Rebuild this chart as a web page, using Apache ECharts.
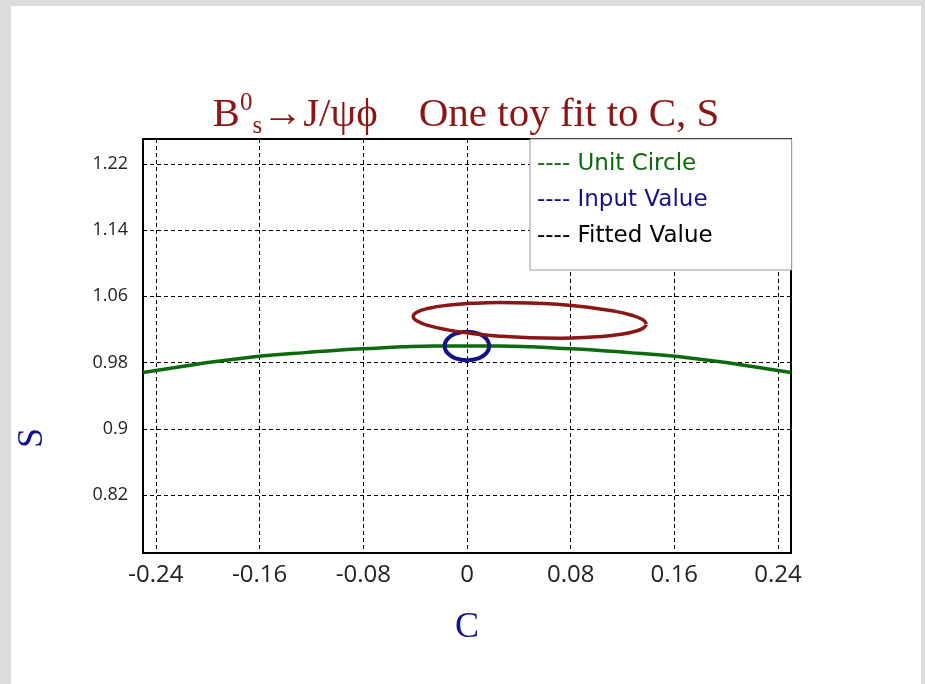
<!DOCTYPE html>
<html>
<head>
<meta charset="utf-8">
<script src="https://cdn.jsdelivr.net/npm/echarts@6/dist/echarts.min.js"></script>
<style>
  html, body { margin: 0; padding: 0; background: #dcdcdc; }
  #container { position: absolute; left: 11px; top: 6px; width: 910px; height: 678px; background: #fff; }
</style>
</head>
<body>
<div id="container"></div>
<script>
// tick positions
var cTicks = [-0.24, -0.16, -0.08, 0, 0.08, 0.16, 0.24];
var sTicks = [0.82, 0.9, 0.98, 1.06, 1.14, 1.22];

// unit circle (green)
var circleC = [-0.25, -0.225, -0.2, -0.175, -0.15, -0.125, -0.1, -0.075, -0.05, -0.025, 0,
               0.025, 0.05, 0.075, 0.1, 0.125, 0.15, 0.175, 0.2, 0.225, 0.25];
var circleS = [0.968, 0.974, 0.980, 0.985, 0.989, 0.992, 0.995, 0.997, 0.999, 1.0, 1.0,
               1.0, 0.999, 0.997, 0.995, 0.992, 0.989, 0.985, 0.980, 0.974, 0.968];

// input value contour (blue)
var inputC = [0.0173, 0.0150, 0.0087, 0, -0.0087, -0.0150, -0.0173, -0.0150, -0.0087, 0, 0.0087, 0.0150, 0.0173];
var inputS = [1.0, 1.0087, 1.0150, 1.0173, 1.0150, 1.0087, 1.0, 0.9913, 0.9850, 0.9827, 0.9850, 0.9913, 1.0];

// fitted value contour (red)
var fitC = [0.1385, 0.1354, 0.1264, 0.1121, 0.0935, 0.0718, 0.0485, 0.0252, 0.0035, -0.0151, -0.0294, -0.0384,
            -0.0415, -0.0384, -0.0294, -0.0151, 0.0035, 0.0252, 0.0485, 0.0718, 0.0935, 0.1121, 0.1264, 0.1354, 0.1385];
var fitS = [1.0263, 1.0319, 1.0374, 1.0425, 1.0468, 1.0501, 1.0520, 1.0525, 1.0515, 1.0492, 1.0456, 1.0410,
            1.0357, 1.0301, 1.0246, 1.0195, 1.0152, 1.0119, 1.0100, 1.0095, 1.0105, 1.0128, 1.0164, 1.0210, 1.0263];

var GREEN = '#0c6a0c', NAVY = '#12128a', MAROON = '#8b1616';

function pairs(xs, ys) {
    return xs.map(function (x, i) { return [x, ys[i]]; });
}

var myChart = echarts.init(document.getElementById('container'));

var serif = 'Liberation Serif';
var option = {
    animation: false,
    title: {
        text: '{b|B}{sup|0}{sub|s}{b|\u2192J/\u03c8\u03d5    One toy fit to C, S}',
        left: 'center',
        top: 80,
        textStyle: {
            rich: {
                b: { fontFamily: serif, fontWeight: 'normal', fontSize: 41, color: MAROON, lineHeight: 48 },
                sup: { fontFamily: serif, fontWeight: 'normal', fontSize: 25, color: MAROON, lineHeight: 34, verticalAlign: 'top' },
                sub: { fontFamily: serif, fontWeight: 'normal', fontSize: 25, color: MAROON, lineHeight: 22, verticalAlign: 'bottom' }
            }
        }
    },
    legend: {
        orient: 'vertical',
        left: 519,
        top: 133,
        icon: 'none',
        itemWidth: 0,
        itemHeight: 14,
        itemGap: 10,
        padding: [12, 79, 21, 2],
        backgroundColor: '#fff',
        borderColor: '#999',
        borderWidth: 1,
        formatter: '---- {name}',
        textStyle: { fontFamily: 'DejaVu Sans', fontSize: 23, lineHeight: 26 },
        data: [
            { name: 'Unit Circle', textStyle: { color: GREEN } },
            { name: 'Input Value', textStyle: { color: NAVY } },
            { name: 'Fitted Value', textStyle: { color: '#000' } }
        ]
    },
    grid: {
        left: 132, top: 133, width: 648, height: 414,
        outerBoundsMode: 'none',
        show: true, borderColor: '#000', borderWidth: 2, backgroundColor: 'transparent'
    },
    xAxis: {
        type: 'value', min: -0.25, max: 0.25,
        name: 'C', nameLocation: 'middle', nameGap: 57,
        nameTextStyle: { fontFamily: serif, fontSize: 36, color: NAVY },
        axisLine: { show: false },
        axisTick: { show: false, customValues: cTicks },
        axisLabel: { customValues: cTicks, fontFamily: 'Open Sans', fontSize: 24, color: '#222', margin: 10 },
        splitLine: { show: true, lineStyle: { color: '#000', width: 1, type: [4, 3] } }
    },
    yAxis: {
        type: 'value', min: 0.75, max: 1.25,
        name: 'S', nameLocation: 'middle', nameGap: 92,
        nameTextStyle: { fontFamily: serif, fontSize: 36, color: NAVY, padding: [0, 184, 0, 0] },
        axisLine: { show: false },
        axisTick: { show: false, customValues: sTicks },
        axisLabel: { customValues: sTicks, fontFamily: 'Open Sans', fontSize: 18, color: '#222', margin: 15 },
        splitLine: { show: true, lineStyle: { color: '#000', width: 1, type: [4, 3] } }
    },
    series: [
        {
            name: 'Unit Circle', type: 'line', data: pairs(circleC, circleS),
            showSymbol: false, smooth: true, color: GREEN,
            lineStyle: { color: GREEN, width: 3.5 }
        },
        {
            name: 'Input Value', type: 'line', data: pairs(inputC, inputS),
            showSymbol: false, smooth: true, color: NAVY,
            lineStyle: { color: NAVY, width: 4 }
        },
        {
            name: 'Fitted Value', type: 'line', data: pairs(fitC, fitS),
            showSymbol: false, smooth: true, color: MAROON,
            lineStyle: { color: MAROON, width: 3.5 }
        }
    ]
};

myChart.setOption(option);
</script>
</body>
</html>
